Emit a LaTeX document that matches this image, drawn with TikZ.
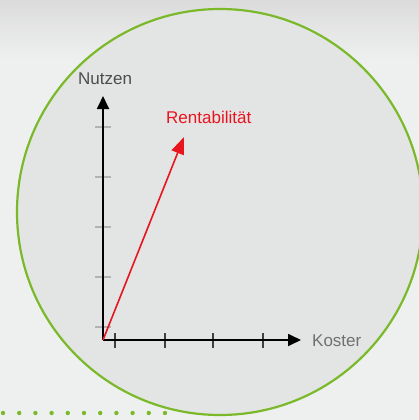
\documentclass[tikz,border=0pt]{standalone}
\usepackage{fontspec}
\setmainfont{Liberation Sans}
\usetikzlibrary{arrows.meta}
\definecolor{bgc}{HTML}{EEF0EF}
\definecolor{circfill}{HTML}{E3E5E4}
\definecolor{leaf}{HTML}{7AB929}
\definecolor{txtgray}{HTML}{707070}
\definecolor{arrred}{HTML}{E8141E}
\tikzset{
  axis/.style={line width=1.8pt, black, -{Triangle[length=13pt,width=12pt]}},
  ytick/.style={line width=1.2pt, black!30},
  xtick/.style={line width=1.2pt, black!75},
  lbl/.style={font=\fontsize{17}{17}\selectfont, text=txtgray, inner sep=0pt},
}
\begin{document}
\begin{tikzpicture}[x=1pt,y=-1pt]
\useasboundingbox (0,0) rectangle (419,420);
\fill[bgc] (0,0) rectangle (419,420);
\shade[top color=black!14, bottom color=bgc] (0,0) rectangle (419,60);
\fill[leaf] \foreach \i in {0,...,10} {(3+16.2*\i,413) circle (2.2pt)};
\draw[leaf, line width=2.2pt, fill=circfill] (220,212) circle (203);
\coordinate (O) at (103,340);
\coordinate (Ytop) at (103,96);
\coordinate (Xend) at (301,340);
\coordinate (R) at (184,137);
\foreach \y in {127,177,227,277,327} \draw[ytick] (95,\y) -- (111,\y);
\foreach \x in {115,165,213,263} \draw[xtick] (\x,333) -- (\x,348);
\draw[axis] (O) -- (Ytop);
\draw[axis] (O) -- (Xend);
\draw[line width=1.6pt, arrred, -{Triangle[length=17pt,width=13pt]}] (O) -- (R);
\node[lbl, anchor=west, text=black!70] (nutzen) at (78,79) {Nutzen};
\node[lbl, anchor=west] (koster) at (312,341) {Koster};
\node[lbl, anchor=west, text=arrred] (rent) at (166,117) {Rentabilität};
\end{tikzpicture}
\end{document}
